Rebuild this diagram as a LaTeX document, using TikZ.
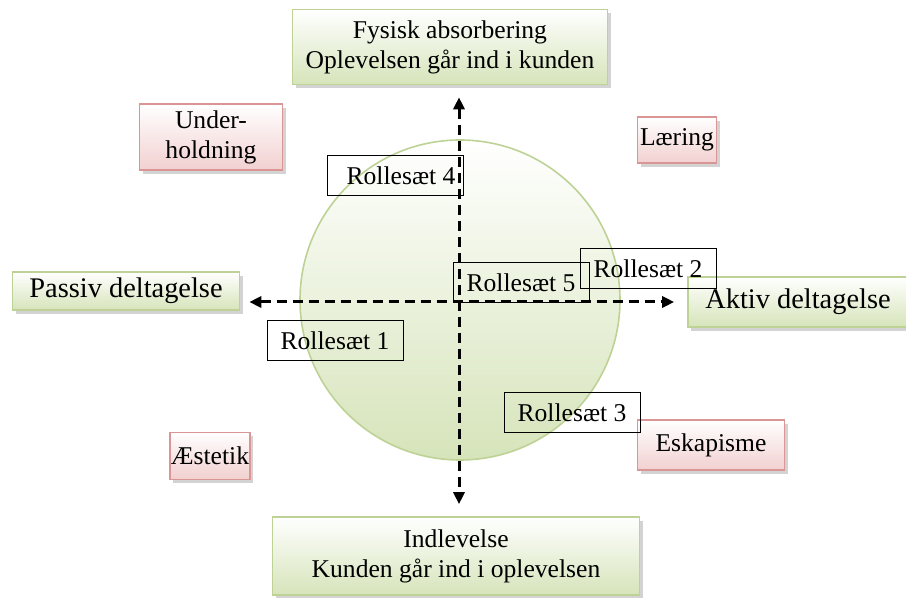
\documentclass[tikz,border=0pt]{standalone}
\usepackage{fontspec}
\setmainfont{Liberation Serif}
\definecolor{greenline}{RGB}{190,210,150}
\definecolor{greenfill}{RGB}{214,228,186}
\definecolor{pinkline}{RGB}{218,150,148}
\definecolor{pinkfill}{RGB}{242,208,208}
\usepackage{tikz}
\usetikzlibrary{arrows.meta, positioning, shadows}

\begin{document}
\begin{tikzpicture}[
    x=0.5pt, y=-0.5pt,
    font=\fontsize{12.8}{15}\selectfont,
    axisbox/.style={rectangle, draw=greenline, line width=0.8pt, top color=white, bottom color=greenfill, align=center, inner sep=0pt, drop shadow={opacity=0.35, shadow xshift=1.5pt, shadow yshift=-2pt}},
    typebox/.style={rectangle, draw=pinkline, line width=0.8pt, top color=white, bottom color=pinkfill, align=center, inner sep=0pt, drop shadow={opacity=0.35, shadow xshift=1.5pt, shadow yshift=-2pt}},
    rolebox/.style={rectangle, draw, line width=0.5pt, minimum width=68pt, minimum height=20pt, inner sep=0pt},
    axis/.style={{Triangle[length=6pt, width=5.5pt]}-{Triangle[length=6pt, width=5.5pt]}, line width=1.5pt, dash pattern=on 5pt off 3pt}
]
\useasboundingbox (0,0) rectangle (906,598);

% circle in the middle
\node[circle, draw=greenline, line width=0.8pt, top color=white, bottom color=greenfill, minimum size=160pt] (circ) at (460,300) {};

% the four ends of the axes
\node[axisbox, minimum width=157.5pt, minimum height=37.5pt] (fysisk) at (450,47) {Fysisk absorbering\\Oplevelsen går ind i kunden};
\node[axisbox, minimum width=183.5pt, minimum height=39pt] (indlev) at (456,556) {Indlevelse\\Kunden går ind i oplevelsen};
\node[axisbox, minimum width=113.5pt, minimum height=19pt, font=\fontsize{14.2}{16}\selectfont] (passiv) at (126,291) {Passiv deltagelse};
\node[axisbox, minimum width=110pt, minimum height=25pt, font=\fontsize{14.2}{16}\selectfont] (aktiv) at (798,302) {Aktiv deltagelse};

\coordinate (mid) at (459,302);
\draw[axis, shorten <=6pt, shorten >=6pt] (fysisk.south -| mid) -- (indlev.north -| mid);
\draw[axis, shorten <=4.5pt, shorten >=6.5pt] (passiv.east |- mid) -- (aktiv.west |- mid);

% the four realms
\node[typebox, minimum width=71.5pt, minimum height=33pt] (under) at (211,137) {Under-\\holdning};
\node[typebox, minimum width=39.5pt, minimum height=23pt] (laering) at (677,140) {Læring};
\node[typebox, minimum width=40pt, minimum height=23.5pt] (aestetik) at (210,456) {Æstetik};
\node[typebox, minimum width=73.5pt, minimum height=25pt] (eskap) at (711,445) {Eskapisme};

% role sets
\node[rolebox] (r4) at (395,176) {\hspace{6pt}Rollesæt 4};
\node[rolebox] (r1) at (335,341) {Rollesæt 1};
\node[rolebox] (r5) at (521,283) {\raisebox{-2.5pt}{Rollesæt 5}};
\node[rolebox] (r2) at (648,269) {Rollesæt 2};
\node[rolebox] (r3) at (572,413) {Rollesæt 3};

\end{tikzpicture}
\end{document}
